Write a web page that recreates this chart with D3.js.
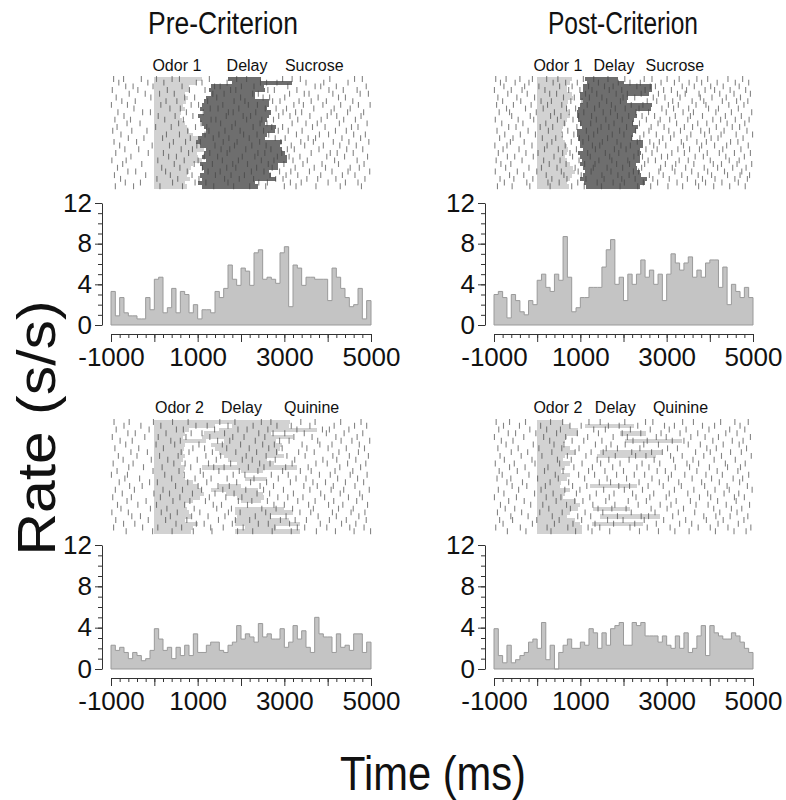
<!DOCTYPE html>
<html>
<head>
<meta charset="utf-8">
<script src="https://cdn.jsdelivr.net/npm/d3@7"></script>
<style>
body { margin: 0; background: #fff; }
svg { display: block; font-family: "Liberation Sans", Arial, Helvetica, sans-serif; }
</style>
</head>
<body>
<div id="chart"></div>
<script>
const timeTicks = [-1000, 1000, 3000, 5000];
const rateTicks = [0, 4, 8, 12];

// PSTH rates, 100 ms bins from -1000 to 5000 ms
const preOdor1Rate = [3.3,0.9,2.7,1.2,0.9,0.9,0.6,0.6,2.7,1.5, 4.5,4.7,1.2,1.7,3.6,1.2,3.3,3.0,1.2,2.0,
	0.6,1.5,1.5,1.2,3.3,2.7,3.6,5.9,4.5,3.9, 5.6,5.3,3.9,7.1,7.4,4.5,4.7,4.5,4.1,7.1,
	7.7,1.8,5.9,5.6,3.9,4.7,4.7,4.5,4.5,4.5, 2.4,5.6,4.7,3.6,2.7,1.8,2.0,3.6,0.6,2.4];
const postOdor1Rate = [3.0,3.3,2.7,0.7,3.0,2.4,1.3,1.0,2.4,2.0, 4.4,5.0,3.7,3.3,5.0,4.4,8.7,4.7,1.3,1.7,
	2.7,2.7,3.7,3.7,3.7,5.7,7.4,8.4,4.0,4.7, 2.4,5.0,4.0,5.0,6.4,4.7,5.4,4.0,5.0,2.4,
	5.0,7.0,6.1,5.4,6.1,6.7,4.7,5.4,4.7,6.1, 6.4,6.4,3.7,5.7,2.0,4.0,3.3,2.7,3.7,2.7];
const preOdor2Rate = [2.3,1.8,2.1,1.6,1.0,1.6,1.3,0.8,1.0,1.8, 3.9,2.9,1.8,2.1,1.0,2.1,1.3,2.3,1.3,3.4,
	1.6,1.6,2.3,2.6,2.6,1.8,1.6,2.3,2.6,4.2, 2.9,3.4,3.1,2.6,4.4,3.1,3.4,2.9,2.9,3.9,
	2.1,2.6,4.2,2.9,3.7,2.1,1.6,5.0,3.4,3.1, 3.1,1.6,3.4,2.1,2.3,1.8,3.4,3.4,1.6,2.6];
const postOdor2Rate = [3.9,1.3,0.6,2.3,0.6,0.9,1.3,1.6,2.6,2.9, 2.0,4.5,0.9,2.3,0,1.6,2.3,2.9,2.0,2.0,
	2.6,2.3,3.9,3.5,2.0,3.5,2.3,3.9,4.2,4.5, 2.3,2.3,4.5,4.2,4.5,3.2,3.2,3.2,2.6,3.2,
	2.3,2.0,3.2,2.0,3.5,1.6,2.0,3.2,4.2,1.3, 4.2,3.5,3.2,2.9,2.9,3.5,3.2,2.6,2.0,1.6];

// trial events (ms): odor offset, delay bar on / off
const preOdor1Off = [1100,950,800,820,700,780,720,650,700,620,600,640,700,760,800,900,1000,1100,1050,1150,980,1000,1100,900,850,800,750,820,700,760];
const preOdor1DelayOn = [1700,1800,1300,1250,1300,1200,1150,1100,1050,1150,1000,1050,1100,1150,1200,1100,1000,950,1050,1200,1150,1100,1200,1050,1100,1150,1050,1100,1000,1100];
const preOdor1DelayOff = [2450,3170,2520,2550,2330,2330,2640,2650,2600,2700,2650,2600,2560,2800,2780,2600,2560,2950,2900,2940,3020,3050,3060,2860,2860,2640,2700,2800,2330,2400];

const postOdor1Off = [800,760,700,690,800,840,720,700,680,720,760,700,660,600,570,560,600,650,700,720,680,640,700,760,820,870,800,760,700,740];
const postOdor1DelayOn = [1100,1150,1070,1070,1000,990,1070,1000,950,920,915,950,990,1030,920,915,940,990,1000,1070,950,990,1030,1000,1070,1100,1070,1000,1080,1140];
const postOdor1DelayOff = [1880,2000,2650,2650,2600,2100,2073,2650,2640,2300,2305,2250,2226,2340,2300,2226,2200,2458,2460,2380,2400,2380,2380,2300,2305,2380,2400,2535,2500,2380];

const preOdor2Off = [3130,1400,800,700,650,1200,700,680,650,700,660,620,700,680,650,700,900,1000,1100,1150,1050,900,700,750,800,850,700,1000,900,850];
const preOdor2DelayOn = [null,1800,1500,1150,1100,1600,1300,1400,1500,1600,1700,1900,1100,2000,null,2100,null,1500,1300,1650,1900,2000,null,1860,1860,1900,1860,1860,2100,1860];
const preOdor2DelayOff = [null,3100,3750,2700,3200,2800,2950,2900,2850,3000,2600,2750,3300,2500,null,2600,null,2000,2400,2500,2520,2450,null,3000,3200,2700,3100,3350,2800,3360];

const postOdor2Off = [605,760,950,950,700,640,600,760,880,640,600,760,640,560,760,700,560,530,760,640,600,900,1000,950,760,700,880,1000,1030,1030];
const postOdor2DelayOn = [null,1110,null,1920,null,2030,null,null,1450,1380,null,null,null,null,null,null,null,1225,null,null,null,null,null,1300,null,1455,null,1270,null,null];
const postOdor2DelayOff = [null,2240,null,2520,null,3350,null,null,2890,2750,null,null,null,null,null,null,null,2310,null,null,null,null,null,2150,null,2845,null,2450,null,null];

// spike times per trial, in units of 10 ms
const preOdor1Spikes = [
	"-94 -71 -30 5 41 58 127 190 213 296 318 337 405 462 480",
	"-82 -15 22 97 110 168 245 259 283 350 391 447",
	"-66 -49 -3 64 139 152 201 230 308 371 384 420 489",
	"-97 -38 30 81 117 176 188 262 277 329 403 436 468",
	"-58 -21 12 46 135 161 227 240 312 346 357 412 475 494",
	"-88 -8 70 93 144 199 251 266 301 378 425 441",
	"-75 -44 27 52 123 184 209 273 290 334 362 397 458",
	"-99 -62 15 85 102 158 217 238 322 344 389 430 471 498",
	"-47 36 60 129 147 195 256 281 305 368 415 452",
	"-84 -27 -9 74 113 171 182 234 297 326 340 408 446 483",
	"-70 9 48 89 166 205 222 287 313 359 399 421 477",
	"-91 -55 24 67 131 142 213 248 275 331 385 437 464",
	"-63 -33 56 108 153 187 244 260 318 350 376 427 491",
	"-86 3 39 95 121 179 228 271 296 365 394 455 470",
	"-96 -52 -17 77 126 163 198 252 286 309 341 418 443",
	"-77 28 58 117 149 206 237 264 328 381 402 460 487",
	"-60 -24 19 83 136 172 219 279 302 355 372 433 476",
	"-93 -41 44 72 106 159 191 243 292 338 367 413 449 495",
	"-80 -5 35 98 140 185 225 258 316 347 390 428 466",
	"-68 -36 62 88 154 174 211 269 307 323 380 444 481",
	"-89 -14 21 79 128 168 239 255 294 362 406 422 459",
	"-54 33 51 115 146 203 232 284 311 336 398 439 492",
	"-98 -65 8 69 101 157 194 247 276 320 353 416 468",
	"-73 -29 46 92 134 181 215 263 299 343 387 425 484",
	"-85 17 59 111 167 188 236 272 325 369 395 452 473",
	"-61 -43 26 76 124 152 224 253 289 315 358 410 447 497",
	"-92 -20 37 87 141 177 208 267 304 331 384 434 463",
	"-78 6 54 103 162 196 229 280 297 352 377 419 486",
	"-67 -32 42 94 119 170 241 261 314 339 401 441 470",
	"-90 -48 13 65 137 183 220 257 300 327 373 429 478"
];
const postOdor1Spikes = [
	"-96 -72 -40 -11 22 48 107 131 164 203 248 266 301 329 370 395 442 476",
	"-85 -51 -19 37 66 93 142 188 215 239 287 318 352 381 417 459 490",
	"-77 -29 4 52 81 119 156 176 231 262 274 336 364 402 431 468",
	"-99 -60 -35 18 73 99 127 167 196 250 293 311 346 389 411 447 483",
	"-68 -23 29 45 112 138 183 209 241 281 325 343 375 423 456 494",
	"-91 -47 -6 61 86 121 150 199 226 269 296 331 378 405 438 471",
	"-80 -38 9 33 78 104 161 193 255 277 314 359 386 429 462 488",
	"-94 -55 -14 24 57 116 144 172 218 245 304 327 368 391 444 479",
	"-71 -27 14 68 89 133 181 204 236 289 316 351 397 420 466",
	"-88 -64 -2 40 74 108 153 170 229 258 299 338 362 414 450 497",
	"-59 -16 31 55 96 126 186 212 243 272 320 355 383 436 473",
	"-97 -44 -8 47 83 137 159 197 253 285 307 349 407 425 459 491",
	"-82 -33 20 63 101 124 178 221 237 280 323 372 393 440 481",
	"-66 -49 7 36 92 148 166 207 264 294 341 360 415 452 469",
	"-93 -21 26 71 114 140 191 228 259 305 332 379 399 433 486",
	"-75 -39 -4 58 85 131 174 201 247 276 317 356 388 426 461 499",
	"-87 -56 12 43 98 119 163 219 238 291 309 347 403 419 477",
	"-62 -30 34 79 106 151 185 232 261 283 334 370 392 448 465",
	"-98 -70 -12 23 65 128 145 194 216 270 298 339 381 411 439 489",
	"-79 -42 17 49 91 135 179 206 252 278 326 353 376 430 472",
	"-90 -26 2 59 76 117 158 189 234 266 312 341 394 422 457 494",
	"-69 -52 -9 39 82 123 168 224 244 288 302 366 385 437 480",
	"-95 -35 15 53 97 143 173 210 257 274 329 350 401 445 468",
	"-84 -61 28 67 110 134 184 214 249 297 321 363 408 427 463 497",
	"-73 -19 10 46 88 130 162 198 242 286 313 344 387 418 453 484",
	"-97 -46 -1 56 95 125 171 223 235 282 319 358 395 434 474",
	"-64 -31 21 62 102 150 187 213 260 292 335 373 404 441 470 492",
	"-86 -54 -10 34 69 113 155 196 227 268 306 348 383 412 458 487",
	"-76 -24 25 51 94 139 176 202 246 279 324 367 390 428 466",
	"-92 -58 -17 30 80 109 149 192 233 263 303 337 374 409 446 482"
];
const preOdor2Spikes = [
	"-93 -58 -2 42 78 151 186 247 269 338 371 430 477",
	"-70 -31 15 96 122 170 228 283 316 359 415 462 490",
	"-88 -12 51 67 139 193 214 262 329 388 404 449",
	"-61 -44 27 85 110 162 241 274 301 346 397 438 481",
	"-97 -22 9 73 128 181 207 255 322 364 419 468",
	"-79 -51 38 60 146 174 233 289 311 377 431 456 497",
	"-66 4 47 103 157 199 250 277 341 382 410 473",
	"-91 -36 21 89 116 167 219 264 295 352 401 443 485",
	"-54 -16 62 80 134 188 236 282 333 369 426 471",
	"-83 -40 12 55 119 153 212 258 306 348 412 450 494",
	"-72 -7 31 99 143 203 226 279 324 389 421 465",
	"-95 -49 45 71 125 176 243 267 318 373 399 446 488",
	"-59 -25 18 84 137 161 217 253 303 355 428 476",
	"-86 -3 57 106 149 196 239 296 337 362 417 458",
	"-99 -62 24 69 113 182 209 270 309 381 406 452 491",
	"-68 -34 40 94 131 168 230 286 327 350 423 469",
	"-81 -11 7 77 121 190 222 259 314 366 395 441 483",
	"-57 -28 49 101 147 173 244 275 345 376 413 463",
	"-90 -46 20 65 109 158 211 252 298 359 408 437 496",
	"-74 -1 35 88 140 184 237 266 321 384 429 474",
	"-96 -53 14 59 127 165 202 285 308 343 393 448 480",
	"-63 -19 43 82 118 194 225 261 331 371 414 467",
	"-85 -38 5 70 136 155 215 276 300 356 402 435 492",
	"-77 -9 29 92 144 178 248 281 319 367 425 459",
	"-98 -60 16 53 105 171 198 257 336 361 411 454 486",
	"-52 -32 37 86 124 163 233 268 304 378 420 472",
	"-89 -14 26 75 148 187 220 291 325 351 404 443 489",
	"-71 -45 50 97 115 180 240 263 312 383 432 465",
	"-94 -27 8 63 130 159 205 278 330 347 398 451 484",
	"-65 -4 41 90 133 192 227 272 316 374 418 461 499"
];
const postOdor2Spikes = [
	"-95 -64 -27 31 59 120 146 203 251 268 337 362 425 458 489",
	"-78 -41 8 76 102 165 190 233 295 318 383 411 470",
	"-89 -17 22 54 131 158 216 262 306 345 398 446 481",
	"-67 -50 -3 45 93 142 197 240 287 331 372 437 463",
	"-99 -31 15 66 117 176 209 276 299 356 389 420 494",
	"-83 -56 29 81 108 150 222 255 313 340 407 452 477",
	"-72 -9 39 62 135 171 204 247 281 350 378 431 468",
	"-91 -44 4 57 97 160 186 238 302 325 393 415 485",
	"-60 -22 34 88 125 153 219 265 290 367 401 448 473",
	"-86 -37 11 70 113 181 228 252 309 336 386 427 496",
	"-76 -12 47 79 139 166 213 271 316 361 410 459",
	"-97 -53 -5 52 104 147 192 243 284 347 374 436 482",
	"-64 -28 25 85 128 175 231 259 320 353 399 441 471",
	"-88 -46 17 60 119 157 200 278 297 370 417 465",
	"-81 -19 42 96 133 184 225 249 311 342 391 429 490",
	"-93 -61 1 49 110 162 207 266 304 359 404 454 476",
	"-70 -34 30 73 144 170 236 283 328 381 422 469",
	"-58 -24 19 82 115 189 214 257 292 334 388 440 487",
	"-90 -43 9 64 99 154 202 244 318 363 412 445 498",
	"-77 -6 37 91 137 178 221 270 306 349 395 433 467",
	"-99 -48 21 55 122 167 229 261 299 376 402 457 480",
	"-66 -30 44 87 106 159 211 253 322 355 418 461",
	"-85 -15 13 68 129 180 234 285 310 368 396 438 492",
	"-74 -52 27 77 141 173 206 264 301 339 409 450 474",
	"-92 -36 6 58 111 152 218 273 327 365 423 463",
	"-61 -21 35 94 124 186 241 258 314 386 414 447 488",
	"-87 -57 -1 51 103 163 199 248 293 344 392 431 479",
	"-79 -11 40 83 134 177 226 276 330 358 419 466",
	"-96 -39 23 71 118 145 215 255 308 373 401 442 495",
	"-69 -26 32 89 127 168 237 281 319 352 413 456 484"
];

const W = 786, H = 800;
const LIGHT = "#d2d2d2", DARK = "#6e6e6e", HIST = "#c4c4c4", INK = "#111";
const FONT = '"Liberation Sans", Arial, Helvetica, sans-serif';

const cols = [
	{ x0: 111, x1: 371, title: "Pre-Criterion", titleX: 223 },
	{ x0: 494, x1: 753, title: "Post-Criterion", titleX: 623 },
];
const rows = [
	{ rTop: 77, rBot: 188, lab: 71, h0: 325, h12: 203, axY: 334 },
	{ rTop: 420, rBot: 533, lab: 413, h0: 669, h12: 545, axY: 678 },
];

const panels = [
	{ col: 0, row: 0, rate: preOdor1Rate, spikes: preOdor1Spikes, odorOff: preOdor1Off,
		delayOn: preOdor1DelayOn, delayOff: preOdor1DelayOff, delayFill: DARK,
		labels: [["Odor 1", 520], ["Delay", 2140], ["Sucrose", 3690]] },
	{ col: 1, row: 0, rate: postOdor1Rate, spikes: postOdor1Spikes, odorOff: postOdor1Off,
		delayOn: postOdor1DelayOn, delayOff: postOdor1DelayOff, delayFill: DARK,
		labels: [["Odor 1", 480], ["Delay", 1780], ["Sucrose", 3190]] },
	{ col: 0, row: 1, rate: preOdor2Rate, spikes: preOdor2Spikes, odorOff: preOdor2Off,
		delayOn: preOdor2DelayOn, delayOff: preOdor2DelayOff, delayFill: LIGHT,
		labels: [["Odor 2", 580], ["Delay", 2010], ["Quinine", 3630]] },
	{ col: 1, row: 1, rate: postOdor2Rate, spikes: postOdor2Spikes, odorOff: postOdor2Off,
		delayOn: postOdor2DelayOn, delayOff: postOdor2DelayOff, delayFill: LIGHT,
		labels: [["Odor 2", 480], ["Delay", 1810], ["Quinine", 3320]] },
];

const svg = d3
	.select("#chart")
	.append("svg")
	.attr("width", W)
	.attr("height", H);

panels.forEach((p) => drawPanel(p));

cols.forEach((c) => {
	svg.append("text")
		.attr("x", c.titleX)
		.attr("y", 34)
		.attr("text-anchor", "middle")
		.attr("font-size", 31)
		.attr("textLength", 150)
		.attr("lengthAdjust", "spacingAndGlyphs")
		.attr("fill", INK)
		.text(c.title);
});

svg.append("text")
	.attr("transform", "translate(55, 428) rotate(-90)")
	.attr("text-anchor", "middle")
	.attr("font-size", 54)
	.attr("textLength", 255)
	.attr("lengthAdjust", "spacingAndGlyphs")
	.attr("fill", INK)
	.text("Rate (s/s)");

svg.append("text")
	.attr("x", 433)
	.attr("y", 790)
	.attr("text-anchor", "middle")
	.attr("font-size", 48)
	.attr("textLength", 186)
	.attr("lengthAdjust", "spacingAndGlyphs")
	.attr("fill", INK)
	.text("Time (ms)");

function drawPanel(p) {
	const c = cols[p.col], r = rows[p.row];
	const x = d3.scaleLinear().domain([-1000, 5000]).range([c.x0, c.x1]);
	const y = d3.scaleLinear().domain([0, 12]).range([r.h0, r.h12]);
	const trial = d3.scaleBand().domain(d3.range(p.spikes.length)).range([r.rTop, r.rBot]);
	const g = svg.append("g");

	// odor shading
	g.append("g")
		.attr("shape-rendering", "crispEdges")
		.selectAll("rect")
		.data(p.odorOff)
		.join("rect")
		.attr("x", x(0))
		.attr("y", (d, i) => trial(i))
		.attr("width", (d) => x(d) - x(0))
		.attr("height", trial.bandwidth() + 0.6)
		.attr("fill", LIGHT);

	// delay shading
	const delays = p.delayOn
		.map((on, i) => ({ i, on, off: p.delayOff[i] }))
		.filter((d) => d.on != null);
	g.append("g")
		.attr("shape-rendering", "crispEdges")
		.selectAll("rect")
		.data(delays)
		.join("rect")
		.attr("x", (d) => x(d.on))
		.attr("y", (d) => trial(d.i))
		.attr("width", (d) => x(d.off) - x(d.on))
		.attr("height", trial.bandwidth() + 0.6)
		.attr("fill", p.delayFill);

	// spike ticks
	const spikes = p.spikes.flatMap((s, i) =>
		s.split(" ").map((t) => ({ i, t: +t * 10 }))
	);
	g.append("g")
		.selectAll("line")
		.data(spikes)
		.join("line")
		.attr("x1", (d) => x(d.t))
		.attr("x2", (d) => x(d.t))
		.attr("y1", (d) => trial(d.i) - 1)
		.attr("y2", (d) => trial(d.i) + trial.bandwidth() + 1.2)
		.attr("stroke", "#444")
		.attr("stroke-opacity", 0.65)
		.attr("stroke-width", 1.1);

	// event labels
	g.append("g")
		.selectAll("text")
		.data(p.labels)
		.join("text")
		.attr("x", (d) => x(d[1]))
		.attr("y", r.lab)
		.attr("text-anchor", "middle")
		.attr("font-size", 16)
		.attr("fill", INK)
		.text((d) => d[0]);

	// histogram
	const pts = [[-1000, 0]]
		.concat(p.rate.map((v, i) => [-1000 + i * 100, v]))
		.concat([[5000, p.rate[p.rate.length - 1]], [5000, 0]]);
	const area = d3.area()
		.x((d) => x(d[0]))
		.y0(y(0))
		.y1((d) => y(d[1]))
		.curve(d3.curveStepAfter);
	const line = d3.line()
		.x((d) => x(d[0]))
		.y((d) => y(d[1]))
		.curve(d3.curveStepAfter);
	g.append("path").attr("d", area(pts)).attr("fill", HIST);
	g.append("path")
		.attr("d", line(pts))
		.attr("fill", "none")
		.attr("stroke", "#9a9a9a")
		.attr("stroke-width", 1);
	g.append("line")
		.attr("x1", x(-1000)).attr("x2", x(5000))
		.attr("y1", y(0)).attr("y2", y(0))
		.attr("stroke", "#9a9a9a");

	// x axis
	const xa = g.append("g")
		.attr("transform", `translate(0,${r.axY})`)
		.attr("color", "#333");
	xa.call(
		d3.axisBottom(x)
			.tickValues(d3.range(-1000, 5001, 200))
			.tickSize(4)
			.tickSizeOuter(0)
			.tickFormat("")
	);
	xa.append("g")
		.call(
			d3.axisBottom(x)
				.tickValues(d3.range(-1000, 5001, 1000))
				.tickSize(8)
				.tickPadding(6)
				.tickFormat((d) => (timeTicks.includes(d) ? String(d) : ""))
		)
		.call((a) => a.select(".domain").remove())
		.attr("font-size", 26)
		.attr("font-family", FONT)
		.selectAll("text")
		.attr("fill", INK);

	// y axis
	const axisX = c.x0 - 9;
	const ya = g.append("g")
		.attr("transform", `translate(${axisX},0)`)
		.attr("color", "#333");
	ya.call(
		d3.axisLeft(y)
			.tickValues(d3.range(0, 13))
			.tickSize(4)
			.tickSizeOuter(0)
			.tickFormat("")
	);
	ya.append("g")
		.call(
			d3.axisLeft(y)
				.tickValues(rateTicks)
				.tickSize(7)
				.tickPadding(3)
				.tickFormat((d) => String(d))
		)
		.call((a) => a.select(".domain").remove())
		.attr("font-size", 26)
		.attr("font-family", FONT)
		.selectAll("text")
		.attr("fill", INK);
}
</script>
</body>
</html>
